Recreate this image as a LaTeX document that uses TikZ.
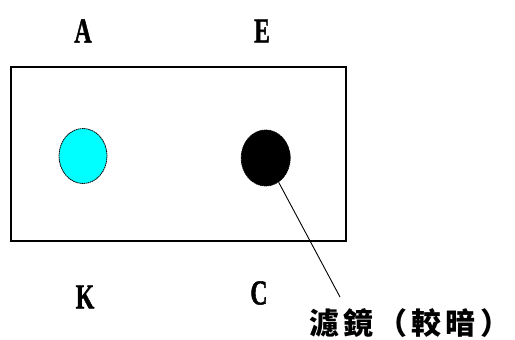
\documentclass[tikz,border=0pt]{standalone}
\usepackage{fontspec}
\setmainfont{Liberation Serif}
\newfontfamily\lblfont[BoldFeatures={FakeBold=1.5}]{Liberation Serif}
\newfontfamily\cjk[LetterSpace=14]{Noto Sans CJK TC}
\usetikzlibrary{shapes.geometric}
\definecolor{spotcyan}{RGB}{0,255,255}
\tikzset{
  lbl/.style={font=\lblfont\fontsize{35}{35}\selectfont\bfseries, xscale=0.68, inner sep=0pt},
  spot/.style={ellipse, draw=black, line width=0.8pt, dashed, dash pattern=on 1.5pt off 0.6pt, inner sep=0pt},
}
\begin{document}
\begin{tikzpicture}[x=1pt,y=-1pt]
\useasboundingbox (0,0) rectangle (515,340);
\node[draw=black, line width=1.6pt, minimum width=335pt, minimum height=174pt, inner sep=0pt] (box) at (178.2,154) {};
\node[spot, fill=spotcyan, minimum width=48pt, minimum height=55pt] (cy) at (83,156) {};
\node[spot, fill=black, minimum width=49pt, minimum height=56pt] (bk) at (265.7,158) {};
\node[lbl] (A) at (83,31) {A};
\node[lbl] (E) at (262,31) {E};
\node[lbl] (K) at (85,297) {K};
\node[lbl] (C) at (259,293) {C};
\coordinate (lend) at (340,297);
\draw[line width=0.9pt] (bk) -- (lend);
\node[inner sep=0pt, anchor=west, font=\cjk\fontsize{30}{30}\selectfont\bfseries] (flt) at (309,323) {濾鏡（較暗）};
\end{tikzpicture}
\end{document}
